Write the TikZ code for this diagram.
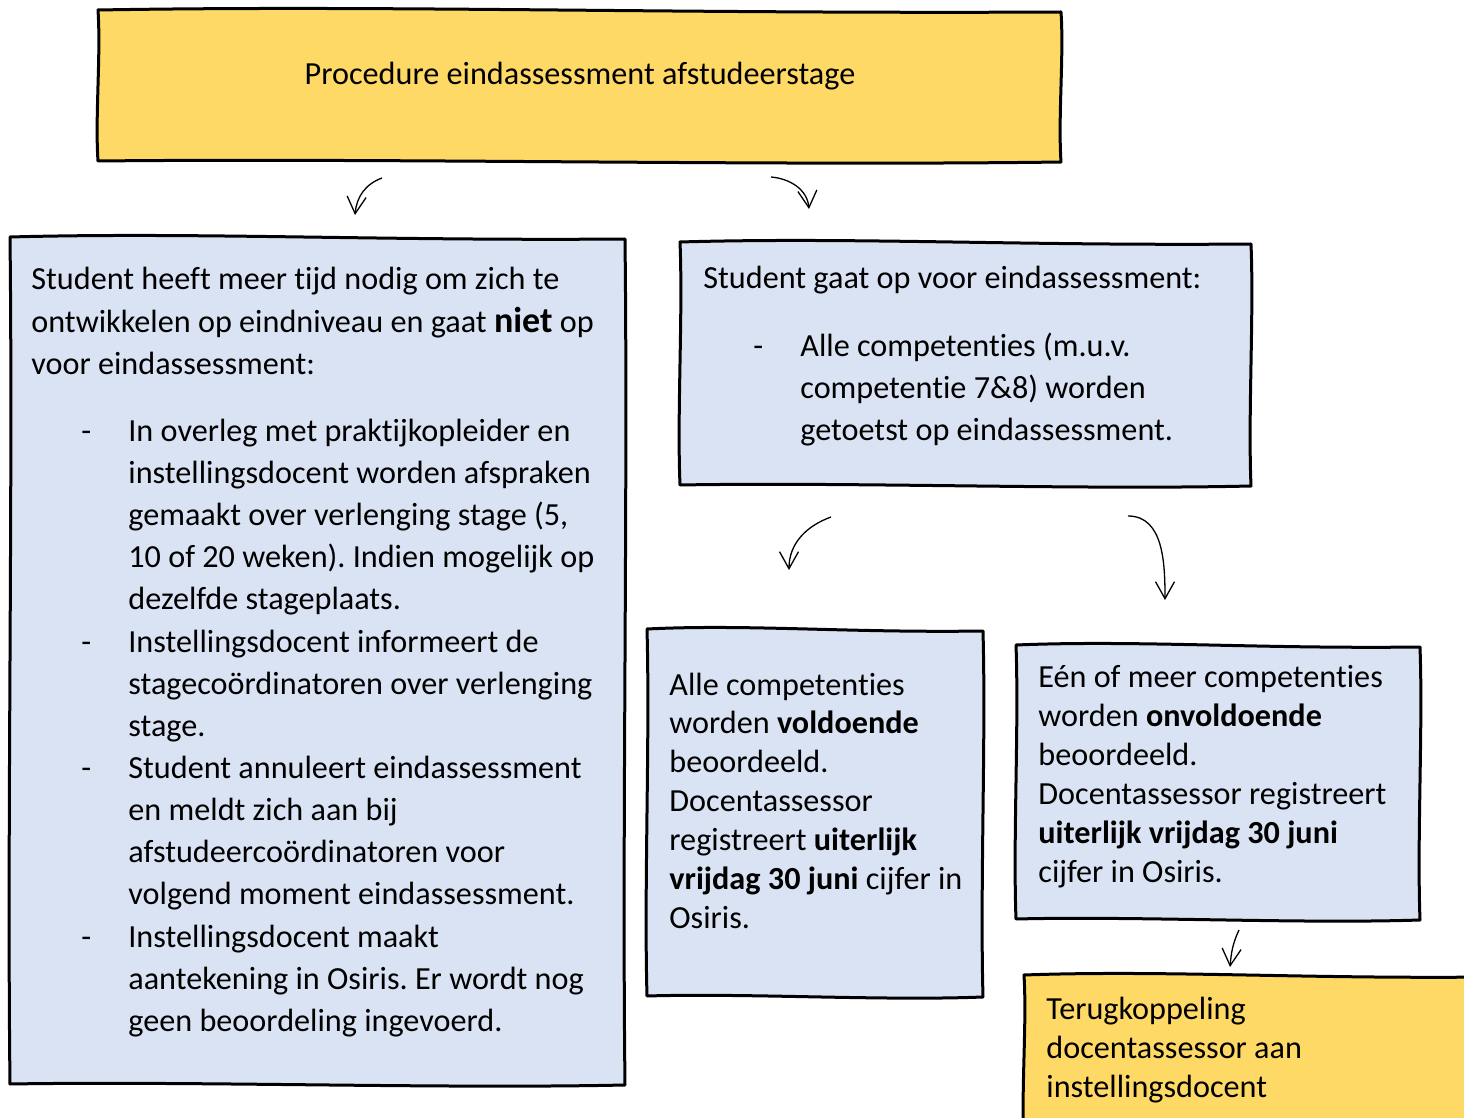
\documentclass[tikz,border=0pt]{standalone}
\usepackage{fontspec}
\setmainfont[Ligatures={NoCommon}]{Carlito}
\usetikzlibrary{arrows.meta}
\definecolor{boxblue}{RGB}{218,227,243}
\definecolor{boxgold}{RGB}{255,217,102}
\newcommand{\sketchbox}[4]% left, top, right, bottom
{(#1,-#2) .. controls ({#1+0.3*(#3-#1)},{-#2+5}) and ({#1+0.6*(#3-#1)},{-#2-4}) .. (#3,{-#2-2})
 .. controls ({#3+3},{-#2-0.3*(#4-#2)}) and ({#3-3},{-#2-0.7*(#4-#2)}) .. (#3,-#4)
 .. controls ({#3-0.3*(#3-#1)},{-#4-4}) and ({#3-0.7*(#3-#1)},{-#4+4}) .. (#1,{-#4+1})
 .. controls ({#1-3},{-#4+0.3*(#4-#2)}) and ({#1+3},{-#4+0.7*(#4-#2)}) .. (#1,-#2) -- cycle
}
\newcommand{\dashitem}{\par\noindent\hangindent=48.5pt\hangafter=1\makebox[48.5pt][l]{\hspace{25pt}-}\ignorespaces}

\begin{document}
\begin{tikzpicture}[x=0.5pt,y=0.5pt,
  sketch/.style={line width=1.5pt,line join=round},
  bluebox/.style={sketch,fill=boxblue},
  goldbox/.style={sketch,fill=boxgold},
  txt/.style={anchor=base west,inner sep=0pt,align=left,text width=#1,
    font=\fontsize{16.1}{21.07}\selectfont,
    execute at begin node={\spaceskip=0pt\xspaceskip=0pt\frenchspacing}},
  tighttxt/.style={txt=#1,font=\fontsize{16.1}{19.5}\selectfont},
  flow/.style={line width=0.65pt,-{Straight Barb[length=8.5pt,width=9.5pt]}}]
  \useasboundingbox (0,0) rectangle (1464,-1118);
  \clip (0,0) rectangle (1464,-1118);

  % boxes
  \filldraw[goldbox] \sketchbox{98}{10}{1061}{162};
  \filldraw[bluebox] \sketchbox{10}{237}{625}{1085};
  \filldraw[bluebox] \sketchbox{680}{242}{1251}{486};
  \filldraw[bluebox] \sketchbox{647}{629}{983}{997};
  \filldraw[bluebox] \sketchbox{1016}{645}{1420}{920};
  \filldraw[goldbox] \sketchbox{1024}{975}{1490}{1140};

  % texts
  \node[anchor=base,inner sep=0pt,font=\fontsize{16.1}{21.07}\selectfont] (title) at (580,-85)
    {Procedure eindassessment afstudeerstage};
  \node[txt=320pt] (notready) at (31,-290)
    {Student heeft meer tijd nodig om zich te\newline
     ontwikkelen op eindniveau en gaat \textbf{\fontsize{18}{21.07}\selectfont niet} op\newline
     voor eindassessment:\par\vspace{12.5pt}
     \dashitem In overleg met praktijkopleider en\newline instellingsdocent worden afspraken\newline
       gemaakt over verlenging stage (5,\newline 10 of 20 weken). Indien mogelijk op\newline
       dezelfde stageplaats.
     \dashitem Instellingsdocent informeert de\newline stagecoördinatoren over verlenging\newline stage.
     \dashitem Student annuleert eindassessment\newline en meldt zich aan bij\newline
       afstudeercoördinatoren voor\newline volgend moment eindassessment.
     \dashitem Instellingsdocent maakt\newline aantekening in Osiris. Er wordt nog\newline
       geen beoordeling ingevoerd.\par};
  \node[txt=290pt] (ready) at (703,-289)
    {Student gaat op voor eindassessment:\par\vspace{12.5pt}
     \dashitem Alle competenties (m.u.v.\newline competentie 7\&8) worden\newline
       getoetst op eindassessment.\par};
  \node[tighttxt=180pt] (pass) at (669,-695)
    {Alle competenties\newline worden \textbf{voldoende}\newline beoordeeld.\newline
     Docentassessor\newline registreert \textbf{uiterlijk}\newline
     \textbf{vrijdag 30 juni} cijfer in\newline Osiris.};
  \node[tighttxt=210pt] (fail) at (1038,-688)
    {Eén of meer competenties\newline worden \textbf{onvoldoende}\newline beoordeeld.\newline
     Docentassessor registreert\newline \textbf{uiterlijk vrijdag 30 juni}\newline
     cijfer in Osiris.};
  \node[tighttxt=220pt] (feedback) at (1046,-1019)
    {Terugkoppeling\newline docentassessor aan\newline instellingsdocent};

  % arrows
  \coordinate (a1) at (382,-178);
  \coordinate (b1) at (355,-215);
  \coordinate (a2) at (771,-177);
  \coordinate (b2) at (809,-209);
  \coordinate (a3) at (831,-517);
  \coordinate (b3) at (789,-570);
  \coordinate (a4) at (1128,-516);
  \coordinate (b4) at (1165,-600);
  \coordinate (a5) at (1239,-930);
  \coordinate (b5) at (1230,-967);
  \draw[flow] (a1) to[out=200,in=85] (b1);
  \draw[flow] (a2) to[out=-5,in=95] (b2);
  \draw[flow] (a3) to[out=200,in=90] (b3);
  \draw[flow] (a4) to[out=0,in=90] (b4);
  \draw[flow] (a5) to[out=245,in=85] (b5);
\end{tikzpicture}
\end{document}
